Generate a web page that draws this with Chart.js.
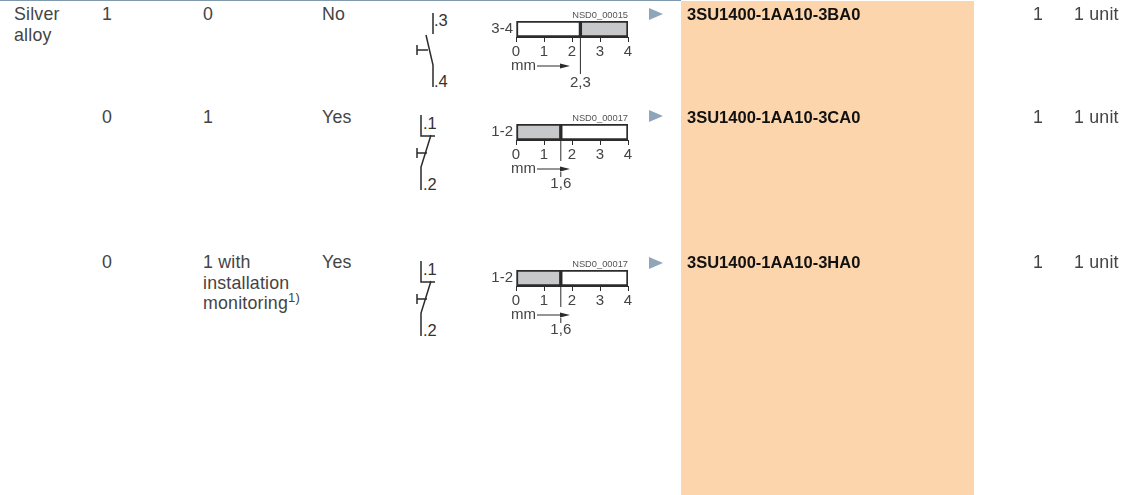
<!DOCTYPE html>
<html>
<head>
<meta charset="utf-8">
<style>
html, body { margin: 0; padding: 0; background: #fff; }
#page { position: relative; width: 1134px; height: 495px; overflow: hidden; font: 17.8px/20.5px "Liberation Sans", sans-serif; color: #444; }
#rule { position: absolute; left: 0; top: 0; width: 681px; height: 1px; background: #7f9aae; }
#order { position: absolute; left: 681px; top: 1px; width: 293px; height: 494px; background: #fcd5ac; }
.cell { position: absolute; white-space: nowrap; letter-spacing: 0.2px; }
.cell b { color: #111; font-size: 16.5px; letter-spacing: 0; }
sup { font-size: 13px; line-height: 0; }
.tri { position: absolute; left: 649px; width: 0; height: 0; border-left: 14px solid #8fa6ba; border-top: 6.5px solid transparent; border-bottom: 6.5px solid transparent; }
.gauge { position: absolute; left: 480px; width: 170px; height: 95px; }
.gauge canvas { display: block; }
.sym { position: absolute; left: 410px; width: 50px; height: 95px; }
.sym text { font: 16.5px "Liberation Sans", sans-serif; fill: #333; }
</style>
</head>
<body>
<div id="page">
    <div id="order"></div>
    <div id="rule"></div>
    <div id="rows"></div>
</div>
<script src="https://cdn.jsdelivr.net/npm/chart.js@4"></script>
<script>
const materials = ['Silver<br>alloy', '', ''];
const noContacts = ['1', '0', '0'];
const ncContacts = ['0', '1', '1 with<br>installation<br>monitoring<sup>1)</sup>'];
const positiveOpening = ['No', 'Yes', 'Yes'];
const articleNumbers = ['3SU1400-1AA10-3BA0', '3SU1400-1AA10-3CA0', '3SU1400-1AA10-3HA0'];
const packSizes = ['1', '1', '1'];
const packUnits = ['1 unit', '1 unit', '1 unit'];
const drawingIds = ['NSD0_00015', 'NSD0_00017', 'NSD0_00017'];

const contactLabels = ['3-4', '1-2', '1-2'];
const terminalTop = ['.3', '.1', '.1'];
const terminalBottom = ['.4', '.2', '.2'];
const travelTicks = [0, 1, 2, 3, 4];
const travelPoints = [2.3, 1.6, 1.6];
const travelLabels = ['2,3', '1,6', '1,6'];
const closedAfterPoint = [true, false, false];

const rowTops = [4, 107, 252];
const gaugeTops = [0, 103, 249];
const triTops = [8, 110, 257];

const GREY = '#c6c8ca';
const INK = '#2b2b2b';

const rowsEl = document.getElementById('rows');

function addCell(x, y, html) {
    const el = document.createElement('div');
    el.className = 'cell';
    el.style.left = x + 'px';
    el.style.top = y + 'px';
    el.innerHTML = html;
    rowsEl.appendChild(el);
}

function symbolSvg(i) {
    const nc = !closedAfterPoint[i];
    const paths = nc
        ? 'M11 12V33H25M21 32L11 64V87M7 50H17M7 45V55'
        : 'M23 13V34M16 35L23 65V87M7 50H18M7 45V55';
    const tx = nc ? 13 : 24;
    return `<svg class="sym" style="top:${gaugeTops[i]}px" viewBox="0 0 50 95" width="50" height="95">
        <path d="${paths}" fill="none" stroke="${INK}" stroke-width="1.5"/>
        <text x="${tx}" y="26">${terminalTop[i]}</text>
        <text x="${tx}" y="87">${terminalBottom[i]}</text>
    </svg>`;
}

// travel marker, mm arrow and drawing number on top of the bar
const travelMarks = {
    id: 'travelMarks',
    afterDraw(chart, args, opts) {
        const { ctx, chartArea, scales } = chart;
        const px = scales.x.getPixelForValue(opts.value);
        const mmX = scales.x.getPixelForValue(0);
        const mmY = chartArea.bottom + 29;
        ctx.save();
        ctx.strokeStyle = INK;
        ctx.lineWidth = 1;
        ctx.beginPath();
        ctx.moveTo(px, chartArea.top);
        if (opts.broken) {
            ctx.lineTo(px, mmY - 8);
            ctx.moveTo(px, mmY + 3);
        }
        ctx.lineTo(px, 74);
        ctx.stroke();

        ctx.fillStyle = '#444';
        ctx.textAlign = 'center';
        ctx.textBaseline = 'middle';
        ctx.font = '15px "Liberation Sans"';
        ctx.fillText(opts.label, px, opts.broken ? 81 : 83);

        ctx.textAlign = 'left';
        ctx.fillText('mm', mmX - 5, mmY);
        ctx.beginPath();
        ctx.moveTo(mmX + 21, mmY);
        ctx.lineTo(mmX + 46, mmY);
        ctx.stroke();
        ctx.fillStyle = INK;
        ctx.beginPath();
        ctx.moveTo(mmX + 54, mmY);
        ctx.lineTo(mmX + 44, mmY - 2.5);
        ctx.lineTo(mmX + 44, mmY + 2.5);
        ctx.closePath();
        ctx.fill();

        ctx.fillStyle = '#555';
        ctx.textAlign = 'right';
        ctx.font = '9.3px "Liberation Sans"';
        ctx.fillText(opts.drawing, chartArea.right, chartArea.top - 6);
        ctx.restore();
    }
};

function drawGauge(i) {
    const wrap = document.createElement('div');
    wrap.className = 'gauge';
    wrap.style.top = gaugeTops[i] + 'px';
    const canvas = document.createElement('canvas');
    canvas.width = 170;
    canvas.height = 95;
    wrap.appendChild(canvas);
    rowsEl.appendChild(wrap);

    const point = travelPoints[i];
    const first = { data: [point], backgroundColor: closedAfterPoint[i] ? '#fff' : GREY };
    const second = { data: [4 - point], backgroundColor: closedAfterPoint[i] ? GREY : '#fff' };
    [first, second].forEach(ds => {
        ds.borderColor = INK;
        ds.borderWidth = 2;
        ds.borderSkipped = false;
        ds.barPercentage = 1;
        ds.categoryPercentage = 1;
    });

    new Chart(canvas, {
        type: 'bar',
        data: { labels: [contactLabels[i]], datasets: [first, second] },
        plugins: [travelMarks],
        options: {
            indexAxis: 'y',
            responsive: false,
            animation: false,
            layout: { padding: { top: 21, right: 22, bottom: 18, left: 0 } },
            plugins: {
                legend: { display: false },
                tooltip: { enabled: false },
                travelMarks: {
                    value: point,
                    label: travelLabels[i],
                    drawing: drawingIds[i],
                    broken: !closedAfterPoint[i]
                }
            },
            scales: {
                x: {
                    stacked: true,
                    min: 0,
                    max: 4,
                    afterBuildTicks(axis) { axis.ticks = travelTicks.map(value => ({ value })); },
                    afterFit(axis) { axis.height = 40; },
                    grid: { drawOnChartArea: false, tickLength: 5, color: INK },
                    border: { color: INK },
                    ticks: { padding: 1, maxRotation: 0, color: '#444', font: { family: 'Liberation Sans', size: 15 } }
                },
                y: {
                    stacked: true,
                    afterFit(axis) { axis.width = 36; },
                    grid: { display: false, drawTicks: false },
                    border: { display: false },
                    ticks: { padding: 3, color: '#444', font: { family: 'Liberation Sans', size: 15 } }
                }
            }
        }
    });
}

articleNumbers.forEach((article, i) => {
    const y = rowTops[i];
    if (materials[i]) addCell(14, y, materials[i]);
    addCell(102, y, noContacts[i]);
    addCell(203, y, ncContacts[i]);
    addCell(322, y, positiveOpening[i]);
    rowsEl.insertAdjacentHTML('beforeend', symbolSvg(i));
    drawGauge(i);
    const tri = document.createElement('div');
    tri.className = 'tri';
    tri.style.top = triTops[i] + 'px';
    rowsEl.appendChild(tri);
    addCell(687, y, `<b>${article}</b>`);
    addCell(1033, y, packSizes[i]);
    addCell(1074, y, packUnits[i]);
});
</script>
</body>
</html>
